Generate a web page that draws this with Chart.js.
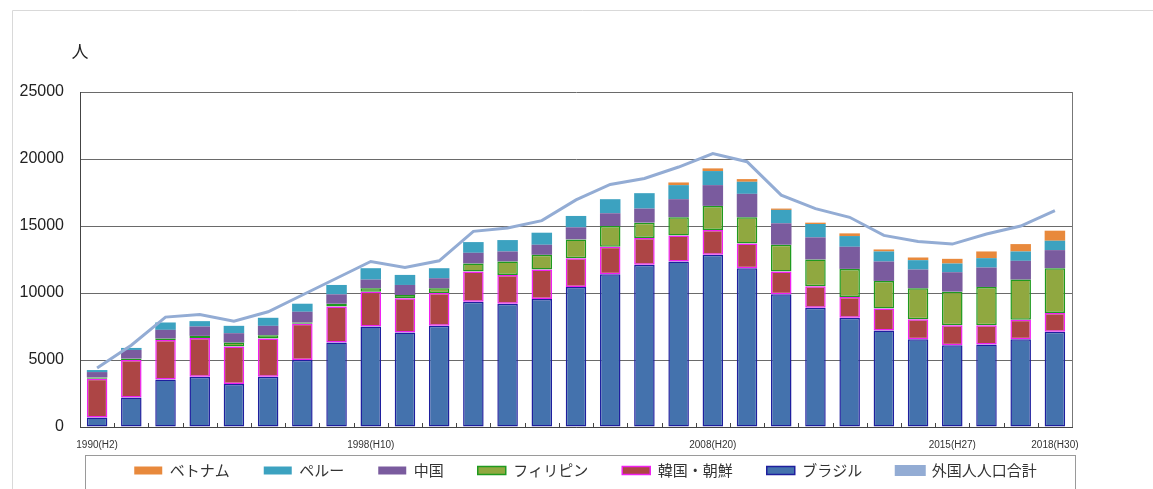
<!DOCTYPE html>
<html lang="ja">
<head>
<meta charset="utf-8">
<title>外国人人口の推移</title>
<script src="https://cdn.jsdelivr.net/npm/chart.js@4"></script>
<style>
  html, body { margin: 0; padding: 0; background: #fff; }
  #wrap { position: relative; width: 1153px; height: 489px; }
</style>
</head>
<body>
<div id="wrap"><canvas id="popChart"></canvas></div>
<script>
// years on the x axis (H = Heisei)
const years = [1990, 1991, 1992, 1993, 1994, 1995, 1996, 1997, 1998, 1999,
               2000, 2001, 2002, 2003, 2004, 2005, 2006, 2007, 2008, 2009,
               2010, 2011, 2012, 2013, 2014, 2015, 2016, 2017, 2018];
const labeledYears = [1990, 1998, 2008, 2015, 2018];
const yTicks = [0, 5000, 10000, 15000, 20000, 25000];

// persons, by nationality
const brazil      = [700, 2200, 3550, 3750, 3200, 3750, 5000, 6300, 7500, 7050, 7550, 9350, 9200, 9550, 10450, 11400, 12100, 12350, 12850, 11850, 9900, 8900, 8150, 7200, 6550, 6100, 6150, 6550, 7100];
const korea       = [2900, 2800, 2950, 2900, 2800, 2850, 2700, 2700, 2600, 2550, 2450, 2250, 2150, 2200, 2150, 2050, 2000, 1950, 1850, 1850, 1700, 1600, 1550, 1650, 1500, 1500, 1450, 1450, 1400];
const philippines = [100, 100, 100, 150, 300, 250, 100, 200, 250, 250, 350, 600, 1000, 1100, 1400, 1550, 1150, 1350, 1800, 1950, 2000, 2000, 2100, 2050, 2300, 2500, 2850, 3000, 3350];
const china       = [400, 650, 650, 700, 700, 700, 800, 700, 650, 750, 750, 800, 750, 750, 900, 950, 1050, 1350, 1550, 1750, 1600, 1650, 1650, 1450, 1400, 1450, 1450, 1400, 1350];
const peru        = [150, 150, 550, 400, 550, 600, 600, 700, 850, 750, 750, 800, 850, 900, 850, 1050, 1150, 1050, 1050, 900, 1000, 1000, 800, 750, 700, 650, 700, 700, 700];
const vietnam     = [0, 0, 0, 0, 0, 0, 0, 0, 0, 0, 0, 0, 0, 0, 0, 0, 0, 200, 200, 200, 100, 100, 200, 150, 200, 350, 500, 550, 750];
// total foreign population (line)
const totalPop    = [4400, 6100, 8200, 8400, 7900, 8600, 9850, 11100, 12350, 11900, 12400, 14600, 14850, 15400, 16950, 18100, 18550, 19400, 20400, 19800, 17300, 16300, 15650, 14300, 13850, 13650, 14400, 15000, 16150];

const numFont = "'Liberation Sans', Arial, 'Noto Sans CJK JP', sans-serif";
const jpFont = "'Noto Sans CJK JP', 'Liberation Sans', sans-serif";

// frame, unit label, legend box, inward x ticks
const decoPlugin = {
  id: 'deco',
  afterInit(chart) {
    const lg = chart.legend;
    const fit = lg.fit;
    lg.fit = function () { fit.call(this); this.height = 37; };
  },
  afterLayout(chart) {
    const lg = chart.legend;
    const area = chart.chartArea;
    lg.left = area.left + 5;
    lg.right = area.right + 14;
    lg.top = 429;
    lg.bottom = chart.height;
  },
  beforeDraw(chart) {
    const ctx = chart.ctx;
    ctx.save();
    ctx.strokeStyle = '#d9d9d9';
    ctx.lineWidth = 1;
    ctx.beginPath();
    ctx.moveTo(12.5, chart.height);
    ctx.lineTo(12.5, 10.5);
    ctx.lineTo(chart.width, 10.5);
    ctx.stroke();
    ctx.restore();
  },
  afterDraw(chart) {
    const ctx = chart.ctx;
    const area = chart.chartArea;
    const x = chart.scales.x;
    ctx.save();
    // right border of plot
    ctx.strokeStyle = '#777';
    ctx.lineWidth = 1;
    ctx.beginPath();
    ctx.moveTo(Math.round(area.right) + 0.5, area.top);
    ctx.lineTo(Math.round(area.right) + 0.5, area.bottom);
    ctx.stroke();
    // small ticks between categories
    ctx.strokeStyle = '#444';
    ctx.beginPath();
    for (let i = 1; i < years.length; i++) {
      const px = Math.round((x.getPixelForValue(i - 1) + x.getPixelForValue(i)) / 2) + 0.5;
      ctx.moveTo(px, area.bottom);
      ctx.lineTo(px, area.bottom - 4);
    }
    ctx.stroke();
    // legend border
    ctx.strokeStyle = '#9a9a9a';
    ctx.strokeRect(area.left + 5.5, 455.5, area.right - area.left - 2, 50);
    // unit
    ctx.fillStyle = '#222';
    ctx.font = "17px " + jpFont;
    ctx.textAlign = 'center';
    ctx.textBaseline = 'middle';
    ctx.fillText('人', area.left, 52);
    ctx.restore();
  }
};

const barBase = { type: 'bar', stack: 'pop', order: 1, borderSkipped: false, barPercentage: 0.6, categoryPercentage: 1 };

const ctx = document.getElementById('popChart').getContext('2d');
new Chart(ctx, {
  data: {
    labels: years,
    datasets: [
      {
        type: 'line', label: '外国人人口合計', data: totalPop, stack: 'line', order: 0,
        borderColor: '#93acd4', backgroundColor: '#93acd4', borderWidth: 3,
        pointRadius: 0, tension: 0, fill: false
      },
      { ...barBase, label: 'ブラジル', data: brazil, backgroundColor: '#4472ad', borderColor: '#1f1f9e', borderWidth: 1.5 },
      { ...barBase, label: '韓国・朝鮮', data: korea, backgroundColor: '#ad4545', borderColor: '#f020f0', borderWidth: 1.5 },
      { ...barBase, label: 'フィリピン', data: philippines, backgroundColor: '#90a840', borderColor: '#1f9a1f', borderWidth: 1.5 },
      { ...barBase, label: '中国', data: china, backgroundColor: '#7a5b9e', borderWidth: 0 },
      { ...barBase, label: 'ペルー', data: peru, backgroundColor: '#3ca2c0', borderWidth: 0 },
      { ...barBase, label: 'ベトナム', data: vietnam, backgroundColor: '#e8893c', borderWidth: 0 }
    ]
  },
  options: {
    responsive: true,
    maintainAspectRatio: false,
    animation: false,
    layout: { padding: { top: 92, right: 81, left: 0, bottom: 0 } },
    scales: {
      x: {
        stacked: true,
        offset: true,
        grid: { display: false },
        border: { display: true, color: '#444' },
        afterFit(scale) { scale.height = 25; },
        ticks: {
          autoSkip: false, maxRotation: 0, padding: 4, color: '#333',
          font: { family: numFont, size: 10 },
          callback(value, index) {
            const y = years[index];
            return labeledYears.includes(y) ? y + '(H' + (y - 1988) + ')' : '';
          }
        }
      },
      y: {
        stacked: true,
        min: yTicks[0],
        max: yTicks[yTicks.length - 1],
        afterFit(scale) { scale.width = 80; },
        afterBuildTicks(scale) { scale.ticks = yTicks.map(v => ({ value: v })); },
        grid: { color: '#6a6a6a', lineWidth: 1, drawTicks: false },
        border: { display: true, color: '#444' },
        ticks: {
          padding: 16, color: '#222',
          font: { family: numFont, size: 16 },
          callback: v => String(v)
        }
      }
    },
    plugins: {
      tooltip: { enabled: false },
      legend: {
        position: 'bottom',
        reverse: true,
        labels: {
          boxWidth: 28, boxHeight: 8, padding: 34, color: '#333',
          font: { family: jpFont, size: 15 }
        }
      }
    }
  },
  plugins: [decoPlugin]
});
</script>
</body>
</html>
